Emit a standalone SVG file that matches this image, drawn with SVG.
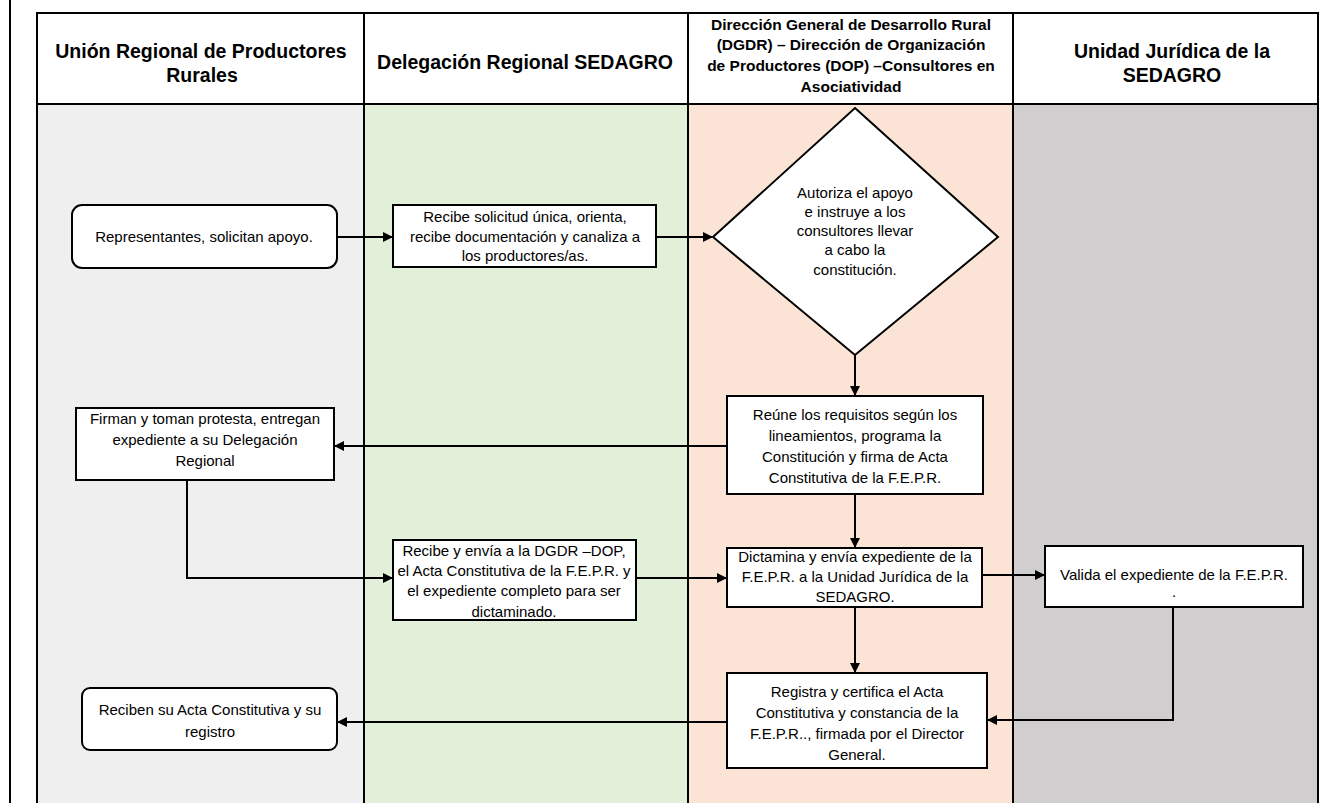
<svg xmlns="http://www.w3.org/2000/svg" width="1321" height="803" viewBox="0 0 1321 803">
<style>
.hdr{font-family:"Liberation Sans",Arial,sans-serif;font-weight:bold;fill:#000;text-anchor:middle}
.t{font-family:"Liberation Sans",Arial,sans-serif;font-size:15px;fill:#000;text-anchor:middle}
.box{fill:#fff;stroke:#000;stroke-width:2}
.ln{fill:none;stroke:#000;stroke-width:2}
.c{fill:none;stroke:#000;stroke-width:2;marker-end:url(#ah)}
</style>
<defs>
<marker id="ah" viewBox="0 0 10 10" refX="9" refY="5" markerWidth="5" markerHeight="5" orient="auto" markerUnits="strokeWidth">
<path d="M0,0 L10,5 L0,10 z" fill="#000"/>
</marker>
</defs>
<rect width="1321" height="803" fill="#fff"/>
<g id="lanes">
<rect x="37" y="104" width="327" height="699" fill="#efefef"/>
<rect x="364" y="104" width="324" height="699" fill="#e2efd9"/>
<rect x="688" y="104" width="325" height="699" fill="#fbe4d5"/>
<rect x="1013" y="104" width="305" height="699" fill="#d0cece"/>
<line x1="10" y1="0" x2="10" y2="803" class="ln"/>
<rect x="37" y="13" width="1281" height="91" class="ln"/>
<line x1="37" y1="104" x2="37" y2="803" class="ln"/>
<line x1="364" y1="13" x2="364" y2="803" class="ln"/>
<line x1="688" y1="13" x2="688" y2="803" class="ln"/>
<line x1="1013" y1="13" x2="1013" y2="803" class="ln"/>
<line x1="1318" y1="13" x2="1318" y2="803" class="ln"/>
<text class="hdr" font-size="19.5" x="201" y="58">Unión Regional de Productores</text>
<text class="hdr" font-size="19.5" x="202" y="82">Rurales</text>
<text class="hdr" font-size="19.5" x="525" y="69">Delegación Regional SEDAGRO</text>
<text class="hdr" font-size="15.5" x="851" y="30">Dirección General de Desarrollo Rural</text>
<text class="hdr" font-size="15.5" x="851" y="50">(DGDR) – Dirección de Organización</text>
<text class="hdr" font-size="15.5" x="851" y="71">de Productores (DOP) –Consultores en</text>
<text class="hdr" font-size="15.5" x="851" y="92">Asociatividad</text>
<text class="hdr" font-size="19.5" x="1172" y="58">Unidad Jurídica de la</text>
<text class="hdr" font-size="19.5" x="1172" y="82">SEDAGRO</text>
</g>
<g id="connectors">
<line x1="337" y1="237" x2="392" y2="237" class="c"/>
<line x1="656" y1="237" x2="712" y2="237" class="c"/>
<line x1="855" y1="355" x2="855" y2="395" class="c"/>
<line x1="727" y1="446" x2="335" y2="446" class="c"/>
<polyline points="187,480 187,578 392,578" class="c"/>
<line x1="636" y1="578" x2="726" y2="578" class="c"/>
<line x1="855" y1="494" x2="855" y2="547" class="c"/>
<line x1="982" y1="575" x2="1044" y2="575" class="c"/>
<line x1="855" y1="607" x2="855" y2="672" class="c"/>
<polyline points="1173,607 1173,720 988,720" class="c"/>
<line x1="727" y1="722" x2="338" y2="722" class="c"/>
</g>
<g id="n1">
<rect x="72" y="205" width="265" height="63" rx="10" class="box"/>
<text class="t" x="204" y="242">Representantes, solicitan apoyo.</text>
</g>
<g id="n2">
<rect x="393" y="205" width="263" height="62" class="box"/>
<text class="t" x="525" y="222">Recibe solicitud única,  orienta,</text>
<text class="t" x="525" y="242">recibe documentación y canaliza  a</text>
<text class="t" x="525" y="261">los productores/as.</text>
</g>
<g id="n3">
<polygon points="855,108 998,237 855,355 713,237" class="box"/>
<text class="t" x="855" y="198">Autoriza el apoyo</text>
<text class="t" x="855" y="217">e instruye a los</text>
<text class="t" x="855" y="236">consultores llevar</text>
<text class="t" x="855" y="255">a cabo la</text>
<text class="t" x="855" y="275">constitución.</text>
</g>
<g id="n4">
<rect x="727" y="396" width="256" height="98" class="box"/>
<text class="t" x="855" y="420">Reúne los requisitos según los</text>
<text class="t" x="855" y="441">lineamientos, programa la</text>
<text class="t" x="855" y="462">Constitución y firma de Acta</text>
<text class="t" x="855" y="483">Constitutiva de la F.E.P.R.</text>
</g>
<g id="n5">
<rect x="76" y="408" width="258" height="72" class="box"/>
<text class="t" x="205" y="424">Firman y toman protesta, entregan</text>
<text class="t" x="205" y="445">expediente a su Delegación</text>
<text class="t" x="205" y="466">Regional</text>
</g>
<g id="n6">
<rect x="393" y="540" width="243" height="80" class="box"/>
<text class="t" x="514" y="556">Recibe y envía a la DGDR –DOP,</text>
<text class="t" x="514" y="576">el Acta Constitutiva  de la F.E.P.R. y</text>
<text class="t" x="514" y="596">el expediente completo para ser</text>
<text class="t" x="514" y="617">dictaminado.</text>
</g>
<g id="n7">
<rect x="727" y="548" width="255" height="59" class="box"/>
<text class="t" x="855" y="562">Dictamina y envía expediente de la</text>
<text class="t" x="855" y="582">F.E.P.R. a la Unidad Jurídica de la</text>
<text class="t" x="855" y="602">SEDAGRO.</text>
</g>
<g id="n8">
<rect x="1045" y="546" width="258" height="61" class="box"/>
<text class="t" x="1174" y="580">Valida el expediente de la F.E.P.R.</text>
<text class="t" x="1174" y="597">.</text>
</g>
<g id="n9">
<rect x="727" y="673" width="260" height="95" class="box"/>
<text class="t" x="857" y="697">Registra y certifica el Acta</text>
<text class="t" x="857" y="718">Constitutiva y constancia de la</text>
<text class="t" x="857" y="739">F.E.P.R.., firmada por el Director</text>
<text class="t" x="857" y="760">General.</text>
</g>
<g id="n10">
<rect x="82" y="688" width="255" height="62" rx="8" class="box"/>
<text class="t" x="210" y="715">Reciben su Acta Constitutiva y su</text>
<text class="t" x="210" y="737">registro</text>
</g>
</svg>
